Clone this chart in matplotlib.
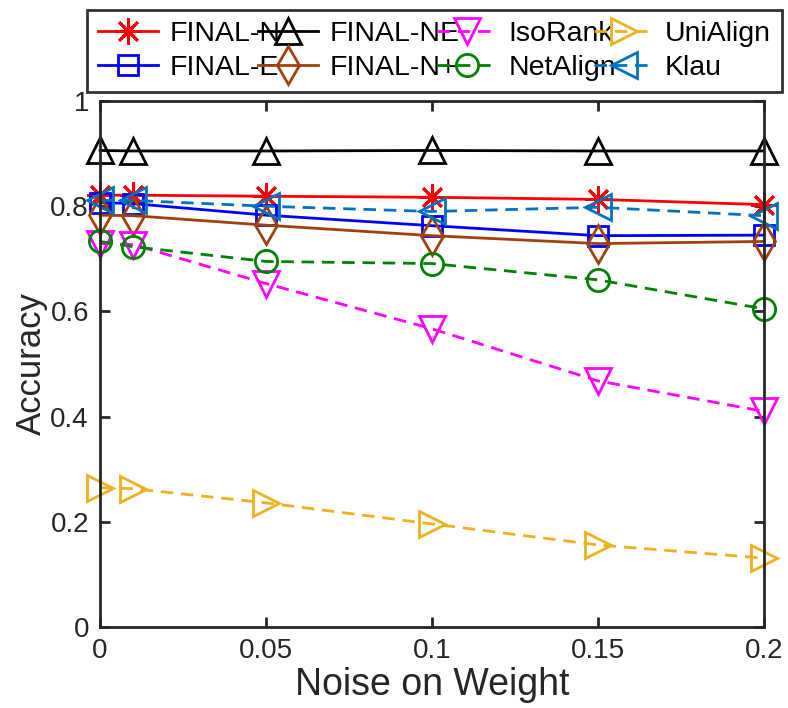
import matplotlib
matplotlib.use('Agg')
import matplotlib.pyplot as plt

plt.rcParams['font.family'] = ['Liberation Sans', 'DejaVu Sans']
plt.rcParams['lines.dashed_pattern'] = [4.5, 2.8]

# noise levels on x axis
noise = [0, 0.01, 0.05, 0.1, 0.15, 0.2]

# accuracy of each method
final_n = [0.821, 0.821, 0.819, 0.817, 0.813, 0.803]
final_e = [0.807, 0.805, 0.783, 0.763, 0.744, 0.745]
final_ne = [0.906, 0.905, 0.905, 0.906, 0.905, 0.905]
final_np = [0.783, 0.782, 0.764, 0.744, 0.729, 0.733]
isorank = [0.729, 0.727, 0.653, 0.567, 0.468, 0.410]
netalign = [0.733, 0.723, 0.695, 0.691, 0.660, 0.605]
unialign = [0.265, 0.263, 0.236, 0.196, 0.156, 0.131]
klau = [0.811, 0.811, 0.800, 0.790, 0.798, 0.782]

xticks = [0, 0.05, 0.1, 0.15, 0.2]
xticklabels = ['0', '0.05', '0.1', '0.15', '0.2']
yticks = [0, 0.2, 0.4, 0.6, 0.8, 1]
yticklabels = ['0', '0.2', '0.4', '0.6', '0.8', '1']

fig = plt.figure(figsize=(7.88, 7.08), dpi=100)
ax = fig.add_axes([0.127, 0.1144, 0.8423, 0.7429])

style = dict(linewidth=2.0, markersize=19, markeredgewidth=2.0,
             markerfacecolor='none', clip_on=False)

ax.plot(noise, final_n, '-', marker=(8, 2, 0), color='red', label='FINAL-N', **style)
ax.plot(noise, final_e, '-', marker='s', color='blue', label='FINAL-E',
        **{**style, 'markersize': 14})
ax.plot(noise, final_ne, '-', marker='^', color='black', label='FINAL-NE', **style)
ax.plot(noise, final_np, '-', marker='d', color='#a0410d', label='FINAL-N+', **style)
ax.plot(noise, isorank, '--', marker='v', color='magenta', label='IsoRank', **style)
ax.plot(noise, netalign, '--', marker='o', color='#008000', label='NetAlign',
        **{**style, 'markersize': 16})
ax.plot(noise, unialign, '--', marker='>', color='#edb120', label='UniAlign', **style)
ax.plot(noise, klau, '--', marker='<', color='#0072bd', label='Klau', **style)

ax.set_xlim(0, 0.2)
ax.set_ylim(0, 1)
ax.set_xticks(xticks)
ax.set_xticklabels(xticklabels)
ax.set_yticks(yticks)
ax.set_yticklabels(yticklabels)

dark = (0.15, 0.15, 0.15)
for s in ax.spines.values():
    s.set_linewidth(2.0)
    s.set_color(dark)
ax.tick_params(direction='in', length=7, width=2, top=True, right=True,
               labelsize=20, colors=dark, pad=8)

ax.set_xlabel('Noise on Weight', fontsize=27, color=dark, labelpad=2)
ax.set_ylabel('Accuracy', fontsize=25, color=dark, labelpad=2)

leg = ax.legend(ncol=4, loc='upper center', bbox_to_anchor=(0.504, 1.173),
                borderaxespad=0, fontsize=20.5, frameon=True, fancybox=False,
                handlelength=2.1, handletextpad=0.4, columnspacing=-0.78,
                labelspacing=0.25, borderpad=0.4)
leg.get_frame().set_edgecolor('black')
leg.get_frame().set_linewidth(2.0)

fig.savefig('out.png', dpi=100)
